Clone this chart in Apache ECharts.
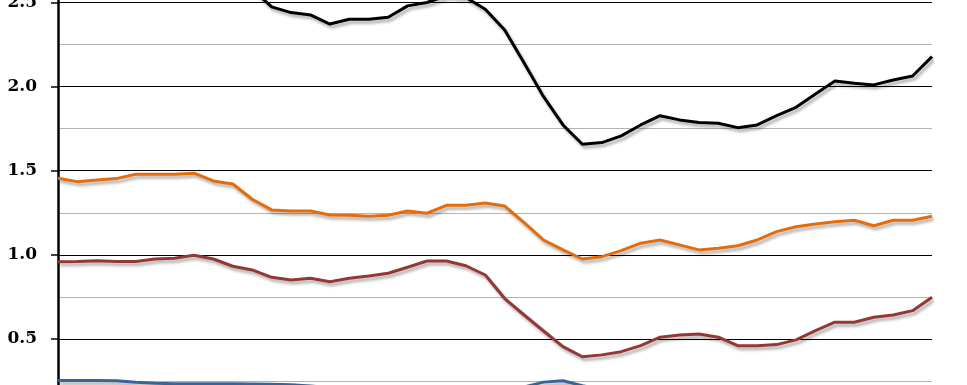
<!DOCTYPE html>
<html>
<head>
<meta charset="utf-8">
<script src="https://cdn.jsdelivr.net/npm/echarts@6/dist/echarts.min.js"></script>
<style>
html,body{margin:0;padding:0;background:#fff;width:967px;height:385px;overflow:hidden;position:relative;}
#chart{position:absolute;left:0;top:-82px;width:967px;height:506px;}
</style>
</head>
<body>
<div id="chart"></div>
<script>
// 46 periods (quarterly), x labels are cropped out of the reference
var categories = ['P01','P02','P03','P04','P05','P06','P07','P08','P09','P10',
  'P11','P12','P13','P14','P15','P16','P17','P18','P19','P20',
  'P21','P22','P23','P24','P25','P26','P27','P28','P29','P30',
  'P31','P32','P33','P34','P35','P36','P37','P38','P39','P40',
  'P41','P42','P43','P44','P45','P46'];

var blackSeries = [2.90, 2.95, 3.00, 3.00, 2.95, 2.90, 2.85, 2.80, 2.72, 2.66,
  2.58, 2.474, 2.44, 2.426, 2.372, 2.40, 2.40, 2.412, 2.48, 2.50,
  2.54, 2.53, 2.46, 2.337, 2.14, 1.94, 1.772, 1.657, 1.667, 1.707,
  1.772, 1.827, 1.802, 1.786, 1.782, 1.756, 1.772, 1.827, 1.877, 1.956,
  2.033, 2.02, 2.01, 2.039, 2.063, 2.178];

var orangeSeries = [1.455, 1.435, 1.445, 1.453, 1.479, 1.479, 1.479, 1.485, 1.439, 1.421,
  1.33, 1.267, 1.26, 1.26, 1.237, 1.235, 1.229, 1.235, 1.26, 1.247,
  1.294, 1.294, 1.308, 1.29, 1.191, 1.088, 1.029, 0.975, 0.989, 1.025,
  1.069, 1.088, 1.059, 1.029, 1.039, 1.054, 1.088, 1.138, 1.167, 1.183,
  1.197, 1.205, 1.173, 1.205, 1.205, 1.229];

var redSeries = [0.959, 0.96, 0.965, 0.96, 0.96, 0.975, 0.98, 0.997, 0.975, 0.932,
  0.91, 0.866, 0.85, 0.86, 0.84, 0.86, 0.874, 0.89, 0.926, 0.963,
  0.963, 0.935, 0.88, 0.74, 0.642, 0.547, 0.454, 0.394, 0.405, 0.424,
  0.46, 0.51, 0.523, 0.529, 0.51, 0.46, 0.46, 0.466, 0.494, 0.549,
  0.599, 0.599, 0.629, 0.642, 0.668, 0.748];

var blueSeries = [0.252, 0.252, 0.252, 0.251, 0.242, 0.236, 0.234, 0.233, 0.233, 0.233,
  0.232, 0.231, 0.228, 0.22, 0.21, 0.2, 0.19, 0.18, 0.17, 0.165,
  0.165, 0.17, 0.18, 0.195, 0.215, 0.243, 0.251, 0.222, 0.2, 0.18,
  0.17, 0.16, 0.15, 0.15, 0.14, 0.14, 0.14, 0.14, 0.14, 0.14,
  0.14, 0.14, 0.14, 0.14, 0.14, 0.14];

var yTickLabels = ['0.0', '0.5', '1.0', '1.5', '2.0', '2.5', '3.0'];

var chart = echarts.init(document.getElementById('chart'), null, {renderer: 'canvas'});

function mkSeries(name, data, color) {
  return {
    name: name,
    type: 'line',
    data: data,
    symbol: 'none',
    smooth: false,
    clip: true,
    lineStyle: {
      color: color,
      width: 3,
      shadowColor: 'rgba(0,0,0,0.32)',
      shadowBlur: 3,
      shadowOffsetX: 2,
      shadowOffsetY: 3
    },
    emphasis: {disabled: true}
  };
}

chart.setOption({
  animation: false,
  backgroundColor: '#ffffff',
  grid: {left: 58, right: 35, top: 0.4, height: 504.6, containLabel: false, outerBoundsMode: 'none'},
  xAxis: {
    type: 'category',
    data: categories,
    boundaryGap: false,
    show: false
  },
  yAxis: {
    type: 'value',
    min: 0,
    max: 3,
    interval: 0.5,
    axisLine: {show: true, lineStyle: {color: '#000', width: 2.5}},
    axisTick: {show: true, length: 7, lineStyle: {color: '#000', width: 1.5}},
    minorTick: {show: false, splitNumber: 2},
    splitLine: {show: true, lineStyle: {color: '#000', width: 1}},
    minorSplitLine: {show: true, lineStyle: {color: '#b4b4b4', width: 1}},
    axisLabel: {
      margin: 21,
      color: '#000',
      fontFamily: 'DejaVu Serif',
      fontWeight: 'bold',
      fontSize: 17,
      formatter: function (v) {
        var idx = Math.round(v / 0.5);
        return yTickLabels[idx] !== undefined ? yTickLabels[idx] : '';
      }
    }
  },
  series: [
    mkSeries('Blue', blueSeries, '#3a6397'),
    mkSeries('Red', redSeries, '#953735'),
    mkSeries('Orange', orangeSeries, '#e46c0a'),
    mkSeries('Black', blackSeries, '#000000')
  ]
});
</script>
</body>
</html>
